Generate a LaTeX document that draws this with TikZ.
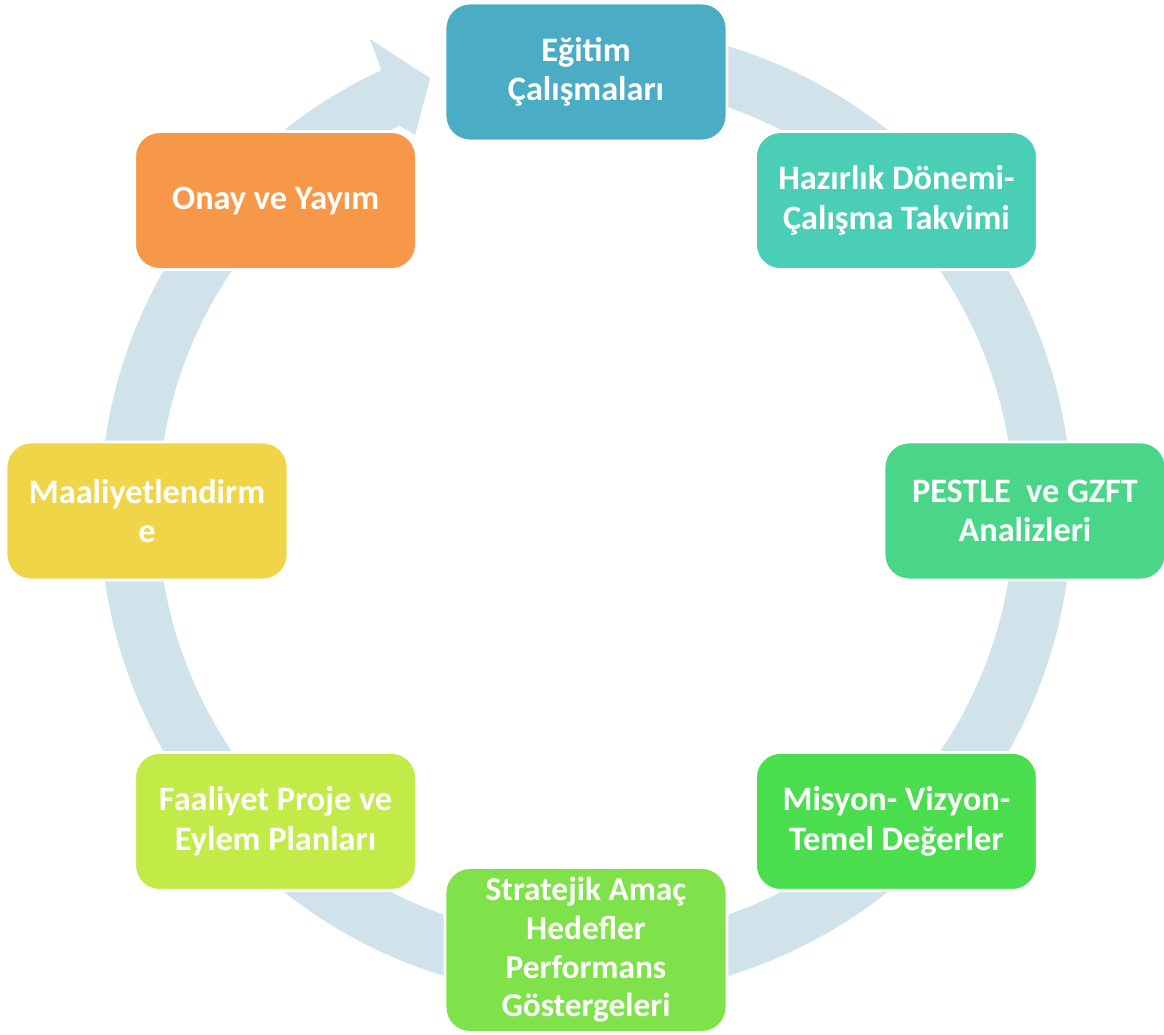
\documentclass[tikz,border=0pt]{standalone}
\usepackage{fontspec}
\setmainfont{Carlito}
\usetikzlibrary{calc}

\definecolor{ringblue}{RGB}{208,226,234}
\definecolor{egitim}{RGB}{75,172,198}
\definecolor{hazirlik}{RGB}{74,206,182}
\definecolor{pestle}{RGB}{74,214,136}
\definecolor{misyon}{RGB}{74,222,78}
\definecolor{stratejik}{RGB}{128,226,74}
\definecolor{faaliyet}{RGB}{194,235,72}
\definecolor{maliyet}{RGB}{240,213,72}
\definecolor{onay}{RGB}{247,152,72}

\begin{document}
\begin{tikzpicture}[
	x=0.02cm, y=0.02cm,
	stage/.style={rectangle, rounded corners=0.5cm, draw=white, line width=1.6pt,
		minimum width=5.64cm, minimum height=2.76cm, inner sep=1pt,
		align=center, text=white, font=\bfseries\fontsize{19.5}{22.5}\selectfont},
	tallstage/.style={stage, minimum height=3.3cm, font=\bfseries\fontsize{19}{22}\selectfont},
	ring/.style={fill=ringblue}
	]
	
	\useasboundingbox (0,0) rectangle (1164,1035);
	\coordinate (c) at (586,524);
	
	% Cycle arrow
	\fill[ring] ([shift={(85:486)}]c) arc[start angle=85, end angle=-245.1, radius=486]
		-- ([shift={(-245.4:519)}]c)
		-- ([shift={(-250.2:460)}]c)
		-- ([shift={(-245.55:413)}]c)
		-- ([shift={(-244.2:428)}]c)
		arc[start angle=-244.2, end angle=85, radius=428] -- cycle;
	
	% Stages
	\foreach \i/\col/\txt in {
		0/egitim/{Eğitim\\Çalışmaları},
		1/hazirlik/{Hazırlık Dönemi-\\Çalışma Takvimi},
		2/pestle/{PESTLE\ \ ve GZFT\\Analizleri},
		3/misyon/{Misyon- Vizyon-\\Temel Değerler},
		5/faaliyet/{Faaliyet Proje ve\\Eylem Planları},
		6/maliyet/{Maaliyetlendirm\\e},
		7/onay/{Onay ve Yayım}}
		\node[stage, fill=\col] (s\i) at ([shift={(90-45*\i:439)}]c) {\txt};
	\node[tallstage, fill=stratejik] (s4) at ([shift={(-90:439)}]c)
		{Stratejik Amaç\\Hedefler\\Performans\\Göstergeleri};
	
\end{tikzpicture}
\end{document}
